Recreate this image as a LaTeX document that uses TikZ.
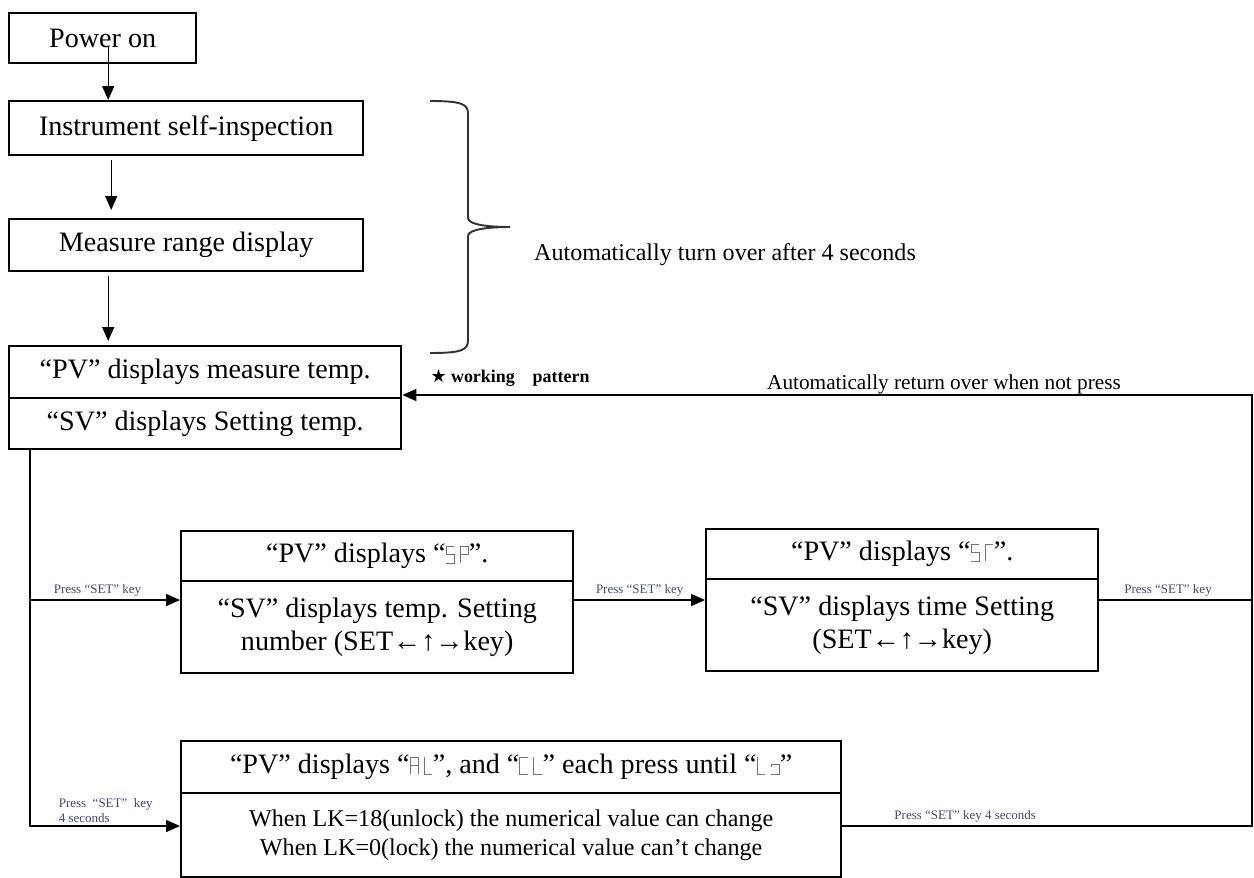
\documentclass[tikz,border=0pt]{standalone}
\usepackage{fontspec}
\setmainfont{Liberation Serif}
\newfontfamily\symfont{DejaVu Sans}
\usetikzlibrary{arrows.meta}
\definecolor{keyblue}{rgb}{0.25,0.28,0.48}
\newcommand{\sevseg}[1]{\tikz[baseline=0pt,x=0.17cm,y=0.33cm]\draw[line width=0.45pt,black!55] #1;}
\newcommand{\glS}{\sevseg{(1,1)--(0,1)--(0,.5)--(1,.5)--(1,0)--(0,0)}}
\newcommand{\glP}{\sevseg{(0,0)--(0,1)--(1,1)--(1,.5)--(0,.5)}}
\newcommand{\glT}{\sevseg{(1,1)--(0,1)--(0,0)}}
\newcommand{\glA}{\sevseg{(0,0)--(0,1)--(1,1)--(1,0) (0,.5)--(1,.5)}}
\newcommand{\glL}{\sevseg{(0,1)--(0,0)--(1,0)}}
\newcommand{\glC}{\sevseg{(1,1)--(0,1)--(0,0)--(1,0)}}
\newcommand{\glK}{\sevseg{(0,0)--(1,0)--(1,.6) (0,.6)--(1,.6) (0,.6)--(0,.4)}}
\tikzset{
	box/.style={draw, line width=1.4pt, anchor=north west, inner sep=2pt, align=center, font=\fontsize{16}{18.5}\selectfont},
	conn/.style={line width=0.75pt},
	arr/.style={conn, -{Triangle[length=0.28cm,width=0.24cm]}},
	keylbl/.style={font=\fontsize{7.4}{8.8}\selectfont, text=keyblue, inner sep=1.5pt},
}

\begin{document}
\begin{tikzpicture}[x=0.02cm, y=-0.02cm]
	\useasboundingbox (0,0) rectangle (1254,877);
	% Boxes:
	\node[box, minimum width=3.74cm, minimum height=1.0cm] (power) at (8,12) {Power on};
	\node[box, minimum width=7.08cm, minimum height=1.08cm] (inspect) at (8,100) {Instrument self-inspection};
	\node[box, minimum width=7.08cm, minimum height=1.04cm] (measure) at (8,218) {Measure range display};
	\node[box, minimum width=7.84cm, minimum height=1.04cm] (pv) at (8,345) {“PV” displays measure temp.};
	\node[box, minimum width=7.84cm, minimum height=1.02cm] (sv) at (8,397) {“SV” displays Setting temp.};
	\node[box, minimum width=7.84cm, minimum height=1.0cm] (sptop) at (180,530) {“PV” displays “\glS\,\glP”.};
	\node[box, minimum width=7.84cm, minimum height=1.84cm] (spbot) at (180,580) {“SV” displays temp. Setting\\number (SET←↑→key)};
	\node[box, minimum width=7.84cm, minimum height=1.0cm] (sttop) at (705,528) {“PV” displays “\glS\,\glT”.};
	\node[box, minimum width=7.84cm, minimum height=1.84cm] (stbot) at (705,578) {“SV” displays time Setting\\(SET←↑→key)};
	\node[box, minimum width=13.2cm, minimum height=1.04cm] (altop) at (180,740) {“PV” displays “\glA\,\glL”, and “\glC\,\glL” each press until “\glL\,\glK”};
	\node[box, minimum width=13.2cm, minimum height=1.68cm, font=\fontsize{13.7}{16}\selectfont] (albot) at (180,792) {When LK=18(unlock) the numerical value can change\\When LK=0(lock) the numerical value can’t change};
	% Texts:
	\node[font=\fontsize{13.7}{16}\selectfont] (turntxt) at (725,255) {Automatically turn over after 4 seconds};
	\node[font=\fontsize{10.2}{12}\selectfont\bfseries] (worktxt) at (510,378) {{\symfont ★} working\quad pattern};
	\node[font=\fontsize{12.1}{14}\selectfont] (rettxt) at (944,384) {Automatically return over when not press};
	% Brace:
	\draw[line width=1.1pt, black!80] (430,101) .. controls (462,101) and (468,104) .. (468,114) -- (468,218)
		.. controls (468,225) and (490,227) .. (510,227) .. controls (490,227) and (468,229) .. (468,236)
		-- (468,340) .. controls (468,350) and (462,353) .. (430,353);
	% Connectors:
	\coordinate (lmid) at (30,600);
	\coordinate (lbot) at (30,826);
	\coordinate (rtop) at (1252,395);
	\coordinate (rmid) at (1252,600);
	\coordinate (rbot) at (1252,826);
	\draw[arr] ([xshift=0.11cm,yshift=-0.16cm]power.center) -- ([xshift=0.11cm]power.center |- inspect.north);
	\draw[arr, shorten <=0.08cm, shorten >=0.16cm] ([xshift=-1.5cm]inspect.south) -- ([xshift=-1.5cm]inspect.south |- measure.north);
	\draw[arr, shorten <=0.08cm, shorten >=0.08cm] ([xshift=-1.56cm]measure.south) -- ([xshift=-1.56cm]measure.south |- pv.north);
	\draw[arr] (sv.south -| lbot) -- (lbot) -- (lbot -| albot.west)
		node[pos=0.17, above right, keylbl, align=left] {Press\ \ “SET”\ \ key\\4 seconds};
	\draw[arr] (lmid) -- (lmid -| spbot.west) node[pos=0.45, above, keylbl] {Press “SET” key};
	\draw[arr] (spbot.east |- lmid) -- (stbot.west |- lmid) node[midway, above, keylbl] {Press “SET” key};
	\draw[conn] (stbot.east |- lmid) -- (rmid) node[pos=0.45, above, keylbl] {Press “SET” key};
	\draw[arr] (albot.east |- lbot) -- (rbot) node[pos=0.3, above, keylbl] {Press “SET” key 4 seconds}
		-- (rtop) -- (rtop -| pv.east);
\end{tikzpicture}
\end{document}
